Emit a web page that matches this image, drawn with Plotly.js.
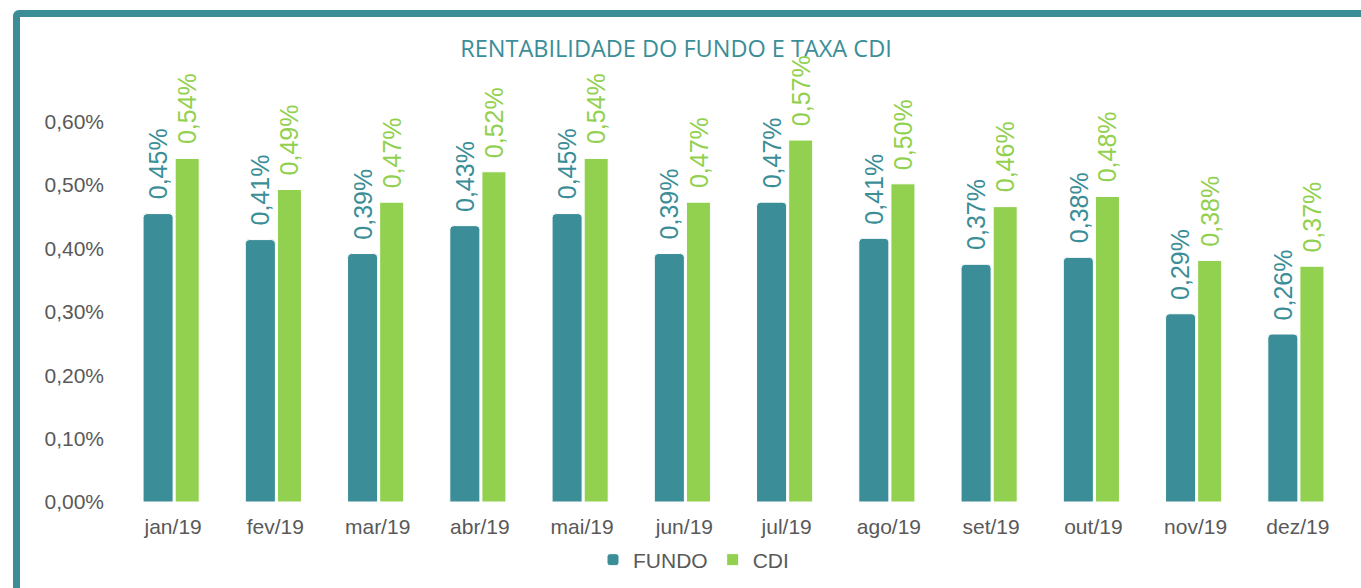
<!DOCTYPE html>
<html>
<head>
<meta charset="utf-8">
<script src="https://cdn.plot.ly/plotly-3.0.1.min.js"></script>
<style>
  html, body { margin:0; padding:0; background:#ffffff; width:1361px; height:588px; overflow:hidden; }
  #frame { position:absolute; left:13px; top:10px; width:1400px; height:640px; border:7px solid #3b8e97; border-radius:6px; box-sizing:border-box; }
  #chart { position:absolute; left:0; top:0; width:1361px; height:588px; }
</style>
</head>
<body>
<div id="frame"></div>
<div id="chart"></div>
<script>
const categories = ['jan/19','fev/19','mar/19','abr/19','mai/19','jun/19','jul/19','ago/19','set/19','out/19','nov/19','dez/19'];
const fundoValues = [0.455,0.414,0.392,0.436,0.455,0.392,0.473,0.416,0.375,0.386,0.297,0.265];
const cdiValues   = [0.542,0.493,0.473,0.521,0.542,0.473,0.571,0.502,0.466,0.482,0.381,0.372];
const fundoLabels = ['0,45%','0,41%','0,39%','0,43%','0,45%','0,39%','0,47%','0,41%','0,37%','0,38%','0,29%','0,26%'];
const cdiLabels   = ['0,54%','0,49%','0,47%','0,52%','0,54%','0,47%','0,57%','0,50%','0,46%','0,48%','0,38%','0,37%'];
const yTickVals = [0,0.1,0.2,0.3,0.4,0.5,0.6];
const yTickText = ['0,00%','0,10%','0,20%','0,30%','0,40%','0,50%','0,60%'];

const TEAL = '#3b8e97';
const GREEN = '#92d050';
const GREY = '#595959';
const FONT = 'Arial, "Liberation Sans", sans-serif';

const traces = [
  { type:'bar', name:'FUNDO', x:categories, y:fundoValues,
    width:0.294, offset:-0.294,
    marker:{color:TEAL, line:{color:'#ffffff', width:1}, cornerradius:4},
    hoverinfo:'skip' },
  { type:'bar', name:'CDI', x:categories, y:cdiValues,
    width:0.235, offset:0.02,
    marker:{color:GREEN, line:{color:'#ffffff', width:1}},
    hoverinfo:'skip' }
];

const annotations = [];
categories.forEach((c, i) => {
  annotations.push({ x:c, y:fundoValues[i], xref:'x', yref:'y', text:fundoLabels[i],
    textangle:-90, showarrow:false, xanchor:'center', yanchor:'bottom', xshift:-15, yshift:12,
    font:{family:FONT, size:25, color:TEAL} });
  annotations.push({ x:c, y:cdiValues[i], xref:'x', yref:'y', text:cdiLabels[i],
    textangle:-90, showarrow:false, xanchor:'center', yanchor:'bottom', xshift:14, yshift:12,
    font:{family:FONT, size:25, color:GREEN} });
});

const layout = {
  width:1361, height:588,
  paper_bgcolor:'rgba(0,0,0,0)', plot_bgcolor:'rgba(0,0,0,0)',
  margin:{l:122, r:12, t:90, b:86},
  barmode:'overlay',
  title:{ text:'RENTABILIDADE DO FUNDO E TAXA CDI', font:{family:'"Open Sans", sans-serif', size:23.5, color:TEAL},
    xref:'container', x:0.4967, xanchor:'center', yref:'container', y:1-49/588, yanchor:'middle' },
  xaxis:{ type:'category', showgrid:false, zeroline:false, showline:false, ticks:'',
    tickfont:{family:FONT, size:21, color:GREY}, ticklabelstandoff:10, fixedrange:true },
  yaxis:{ range:[0,0.65], tickvals:yTickVals, ticktext:yTickText, showgrid:false, zeroline:false, showline:false, ticks:'',
    tickfont:{family:FONT, size:21, color:GREY}, ticklabelstandoff:17, fixedrange:true },
  showlegend:true,
  legend:{ orientation:'h', x:(680.5+13)/1361, xref:'container', xanchor:'center', y:1-560/588, yref:'container', yanchor:'middle',
    font:{family:FONT, size:21, color:GREY}, itemwidth:30, bgcolor:'rgba(0,0,0,0)' },
  annotations:annotations
};

Plotly.newPlot('chart', traces, layout, {displayModeBar:false, staticPlot:true});
</script>
</body>
</html>
